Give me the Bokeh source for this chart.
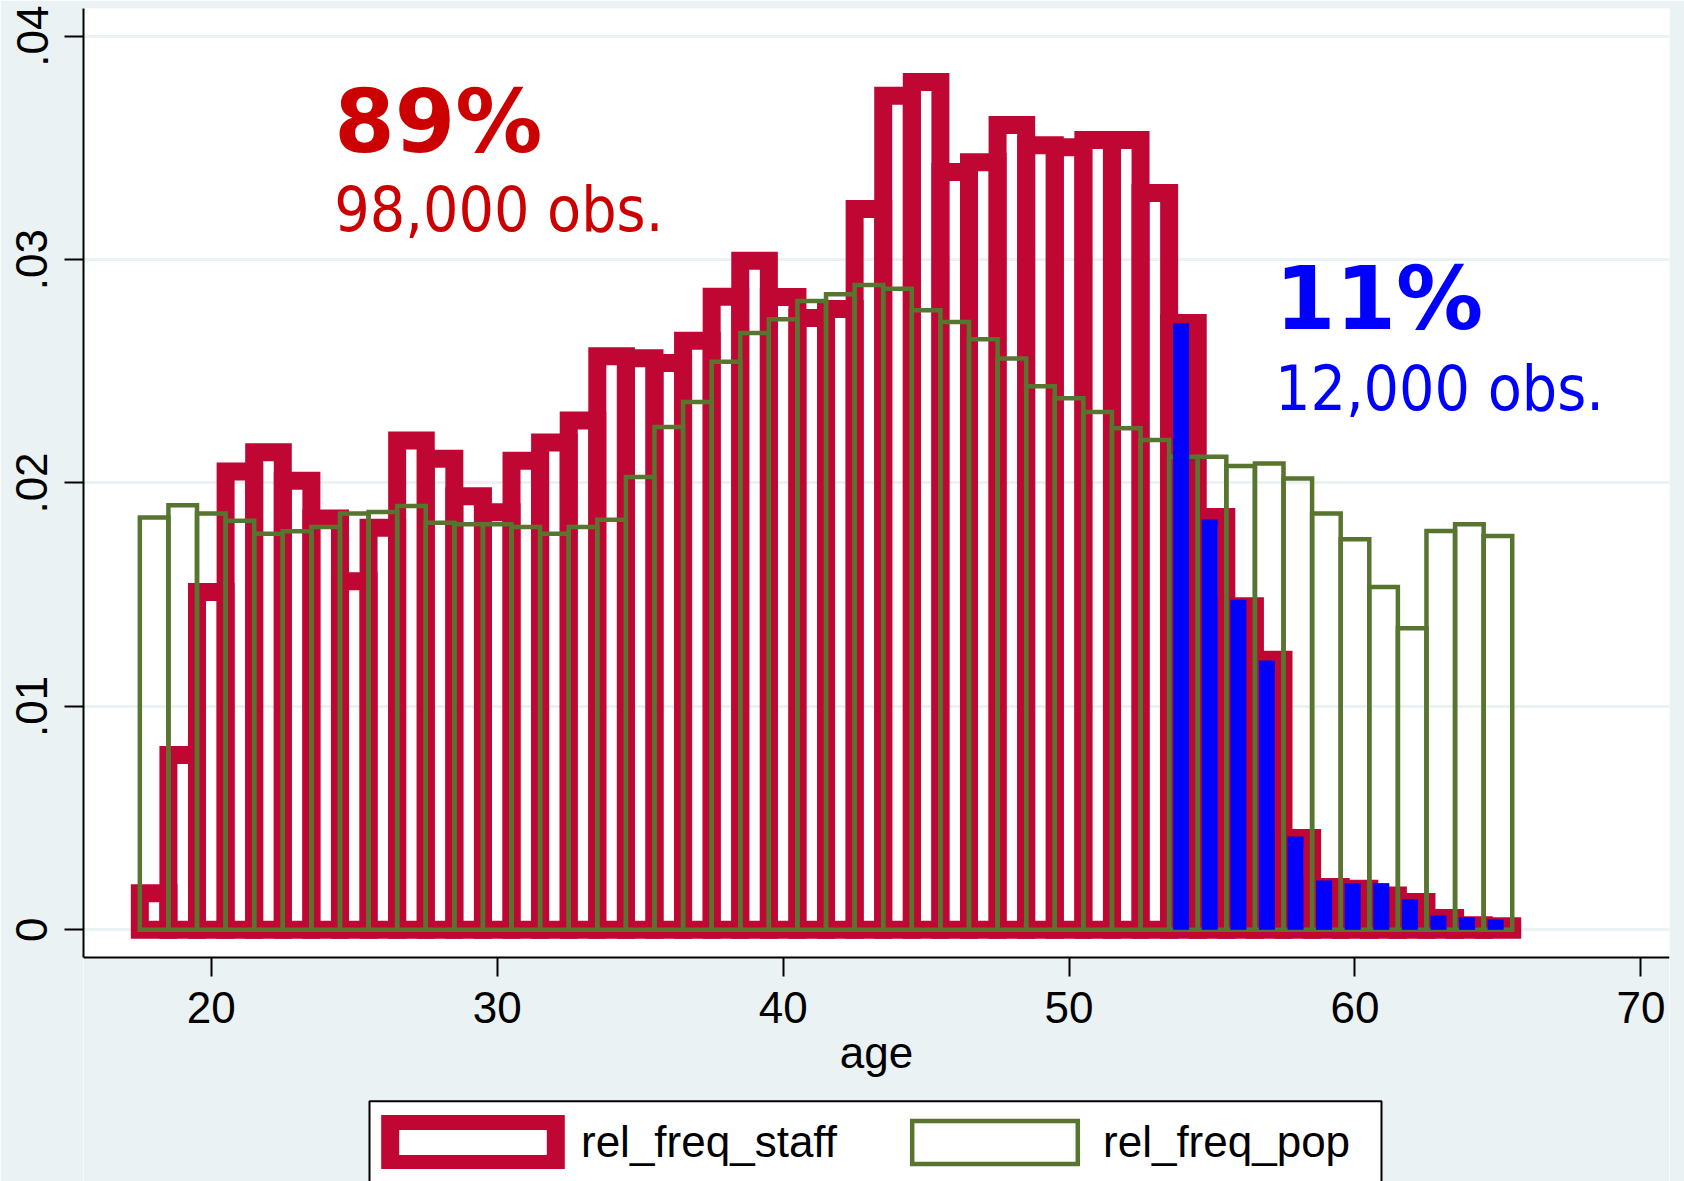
from bokeh.plotting import figure
from bokeh.models import (Range1d, FixedTicker, Legend, LegendItem, Label, ColumnDataSource,
                          BoxAnnotation)
from bokeh.embed import file_html
from bokeh.resources import INLINE

# ---------------- data ----------------
ages = list(range(18, 66))
rel_freq_staff = [0.00164, 0.00782, 0.01512, 0.02052, 0.02138, 0.02010, 0.01841, 0.01560, 0.01800, 0.02190,
                  0.02108, 0.01941, 0.01869, 0.02100, 0.02181, 0.02280, 0.02567, 0.02558, 0.02537, 0.02637,
                  0.02834, 0.02995, 0.02833, 0.02739, 0.02779, 0.03226, 0.03734, 0.03795, 0.03392, 0.03436,
                  0.03602, 0.03512, 0.03503, 0.03535, 0.03535, 0.03298, 0.02716, 0.01848, 0.01448, 0.01209,
                  0.00411, 0.00192, 0.00184, 0.00154, 0.00124, 0.00053, 0.00020, 0.00016]
rel_freq_pop = [0.01846, 0.01900, 0.01864, 0.01831, 0.01773, 0.01784, 0.01803, 0.01864, 0.01870, 0.01897,
                0.01822, 0.01815, 0.01815, 0.01803, 0.01773, 0.01803, 0.01836, 0.02027, 0.02251, 0.02363,
                0.02543, 0.02671, 0.02733, 0.02815, 0.02845, 0.02886, 0.02870, 0.02773, 0.02721, 0.02643,
                0.02557, 0.02433, 0.02379, 0.02318, 0.02245, 0.02193, 0.02118, 0.02118, 0.02076, 0.02087,
                0.02020, 0.01864, 0.01748, 0.01535, 0.01350, 0.01785, 0.01815, 0.01763]
old_ages = list(range(54, 66))
rel_freq_staff_old = [0.02715, 0.01837, 0.01477, 0.01205, 0.00418, 0.00221, 0.00209, 0.00209,
                      0.00136, 0.00064, 0.00056, 0.00046]

x_ticks = [20, 30, 40, 50, 60, 70]
y_ticks = [0, 0.01, 0.02, 0.03, 0.04]
y_tick_labels = ["0", ".01", ".02", ".03", ".04"]

share_young, obs_young = "89%", "98,000 obs."
share_old, obs_old = "11%", "12,000 obs."

# ---------------- style / layout ----------------
BG = "#EAF2F3"
RED = "#C00633"
GREEN = "#58752F"
BLUE = "#0000FF"
TXT_RED = "#CC0000"
FONT = "Liberation Sans"

X0, X1 = 15.53, 71.0          # visible age range of the plot region
Y_AXIS = -0.001227            # where the x axis sits (bottom of the plot region)
Y_TOP = 0.04124
Y_BOTTOM = -0.011267          # frame extends to the bottom of the canvas (legend lives there)
FRAME_W, FRAME_H = 1586, 1173
PX_PER_X = FRAME_W / (X1 - X0)
PX_PER_Y = FRAME_H / (Y_TOP - Y_BOTTOM)

p = figure(width=1684, height=1181, output_backend="svg", toolbar_location=None,
           x_range=Range1d(X0, X1), y_range=Range1d(Y_BOTTOM, Y_TOP),
           min_border_left=83, min_border_right=15, min_border_top=8, min_border_bottom=0,
           background_fill_color="white", border_fill_color=BG, outline_line_color=None)

# background colour below the plot region (inside the extended frame)
p.quad(left=[X0], right=[X1], top=[Y_AXIS], bottom=[Y_BOTTOM], fill_color=BG, line_color=None)

staff_src = ColumnDataSource(dict(left=[a - 0.5 for a in ages], right=[a + 0.5 for a in ages],
                                  top=rel_freq_staff, bottom=[0] * len(ages)))
pop_src = ColumnDataSource(dict(left=[a - 0.5 for a in ages], right=[a + 0.5 for a in ages],
                                top=rel_freq_pop, bottom=[0] * len(ages)))
old_src = ColumnDataSource(dict(left=[a - 0.36 for a in old_ages], right=[a + 0.20 for a in old_ages],
                                top=rel_freq_staff_old, bottom=[0] * len(old_ages)))

r_staff = p.quad(left="left", right="right", top="top", bottom="bottom", source=staff_src,
                 fill_color=None, line_color=RED, line_width=18, line_join="miter")
r_pop = p.quad(left="left", right="right", top="top", bottom="bottom", source=pop_src,
               fill_color=None, line_color=GREEN, line_width=4.5, line_join="miter")
p.quad(left="left", right="right", top="top", bottom="bottom", source=old_src,
       fill_color=BLUE, line_color=None)

# annotations
BIG_FONT = "DejaVu Sans"
OBS_FONT = "DejaVu Sans Condensed, DejaVu Sans"
p.add_layout(Label(x=24.3, y=0.03614, text=share_young, text_color=TXT_RED,
                   text_font=BIG_FONT, text_font_style="bold", text_font_size="87px",
                   text_baseline="alphabetic", text_align="left"))
p.add_layout(Label(x=24.3, y=0.03226, text=obs_young, text_color=TXT_RED,
                   text_font=OBS_FONT, text_font_size="62px",
                   text_baseline="alphabetic", text_align="left"))
p.add_layout(Label(x=57.2, y=0.02825, text=share_old, text_color=BLUE,
                   text_font=BIG_FONT, text_font_style="bold", text_font_size="87px",
                   text_baseline="alphabetic", text_align="left"))
p.add_layout(Label(x=57.2, y=0.02423, text=obs_old, text_color=BLUE,
                   text_font=OBS_FONT, text_font_size="62px",
                   text_baseline="alphabetic", text_align="left"))

# axes
p.xaxis.ticker = FixedTicker(ticks=x_ticks)
p.yaxis.ticker = FixedTicker(ticks=y_ticks)
p.yaxis.major_label_overrides = {t: l for t, l in zip(y_ticks, y_tick_labels)}
p.yaxis.major_label_orientation = "vertical"
for ax in (p.xaxis[0], p.yaxis[0]):
    ax.axis_line_color = "black"
    ax.axis_line_width = 2
    ax.major_tick_line_color = "black"
    ax.major_tick_line_width = 2
    ax.major_tick_out = 19
    ax.major_tick_in = 0
    ax.minor_tick_line_color = None
    ax.major_label_text_font = FONT
    ax.major_label_text_font_size = "44px"
    ax.major_label_text_color = "black"
p.xaxis.fixed_location = Y_AXIS
p.yaxis.bounds = (Y_AXIS, Y_TOP)
p.xaxis.major_label_standoff = 16
p.yaxis.major_label_standoff = 17
p.xaxis.axis_label = "age"
p.xaxis.axis_label_text_font = FONT
p.xaxis.axis_label_text_font_size = "44px"
p.xaxis.axis_label_text_font_style = "normal"
p.xaxis.axis_label_text_color = "black"
p.xaxis.axis_label_standoff = 1

p.xgrid.grid_line_color = None
p.ygrid.grid_line_color = BG
p.ygrid.grid_line_width = 3

# legend frame (white box with black border), then the legend itself
LEG_LEFT_PX, LEG_RIGHT_PX, LEG_TOP_PX = 286, 1298, 1092.7   # px from frame left / frame top
p.add_layout(BoxAnnotation(left=X0 + LEG_LEFT_PX / PX_PER_X, right=X0 + LEG_RIGHT_PX / PX_PER_X,
                           top=Y_TOP - LEG_TOP_PX / PX_PER_Y, bottom=Y_BOTTOM - 0.01,
                           fill_color="white", fill_alpha=1.0, line_color="black", line_width=2,
                           line_alpha=1.0))
legend = Legend(items=[LegendItem(label="rel_freq_staff", renderers=[r_staff]),
                       LegendItem(label="rel_freq_pop", renderers=[r_pop])],
                location=(286, 12), orientation="horizontal",
                glyph_width=207, glyph_height=54, label_height=54, label_standoff=5, spacing=54,
                padding=0, margin=0, border_line_color=None, background_fill_alpha=0.0,
                label_text_font=FONT, label_text_font_size="44px", label_text_color="black")
p.add_layout(legend, "center")

html = file_html(p, INLINE)
open("out.html", "w").write(html)
